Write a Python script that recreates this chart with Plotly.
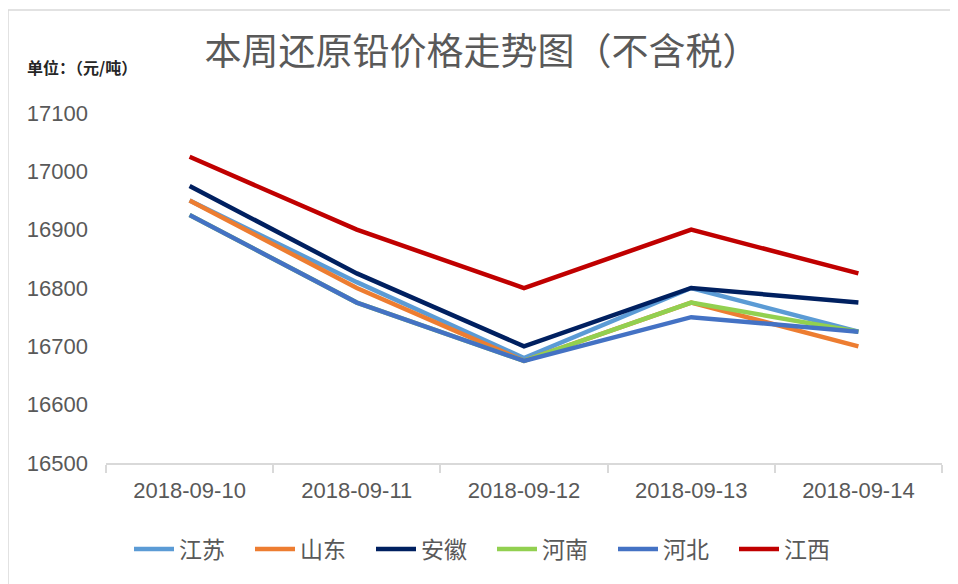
import plotly.graph_objects as go

dates = ["2018-09-10", "2018-09-11", "2018-09-12", "2018-09-13", "2018-09-14"]
jiangsu = [16950, 16810, 16680, 16800, 16725]
shandong = [16950, 16800, 16675, 16775, 16700]
anhui = [16975, 16825, 16700, 16800, 16775]
henan = [16925, 16775, 16675, 16775, 16725]
hebei = [16925, 16775, 16675, 16750, 16725]
jiangxi = [17025, 16900, 16800, 16900, 16825]

series = [
    ("江苏", jiangsu, "#5B9BD5"),
    ("山东", shandong, "#ED7D31"),
    ("安徽", anhui, "#002060"),
    ("河南", henan, "#92D050"),
    ("河北", hebei, "#4472C4"),
    ("江西", jiangxi, "#C00000"),
]

fig = go.Figure()
for name, vals, color in series:
    fig.add_trace(go.Scatter(x=dates, y=vals, name=name, mode="lines",
                             line=dict(color=color, width=4.5)))

# the page body has an 8px margin, so the figure starts at (8, 8)
W, H = 950, 576
L, R, T, B = 98, 16, 105, 121

fig.update_layout(
    width=W, height=H,
    margin=dict(l=L, r=R, t=T, b=B, autoexpand=False),
    paper_bgcolor="white", plot_bgcolor="white",
    font=dict(family="Liberation Sans, Arial, Noto Sans CJK SC", color="#595959"),
    title=dict(text="本周还原铅价格走势图（不含税）", x=(482 - 8) / W, xref="container",
               y=(H - 44) / H, yref="container", yanchor="middle", xanchor="center",
               font=dict(size=37, color="#595959", family="Noto Sans CJK SC")),
    showlegend=True,
    legend=dict(orientation="h", x=(492 - 8) / W, xanchor="center", xref="container",
                y=(H - 541) / H, yref="container", yanchor="middle",
                font=dict(size=23, color="#595959", family="Noto Sans CJK SC"),
                itemwidth=40, tracegroupgap=0, entrywidth=66, entrywidthmode="pixels"),
    xaxis=dict(type="category", range=[-0.5, 4.5], automargin=False, showgrid=False,
               showline=True, linecolor="#d9d9d9",
               linewidth=1.5, ticks="outside", tickson="boundaries", ticklen=8,
               tickcolor="#d9d9d9", tickwidth=1.5, tickfont=dict(size=22, color="#595959"),
               ticklabelstandoff=7, zeroline=False, fixedrange=True),
    yaxis=dict(range=[16500, 17100], dtick=100, automargin=False, showgrid=False,
               showline=False, zeroline=False, tickfont=dict(size=22, color="#595959"),
               ticks="", ticklabelstandoff=17, tickformat="d", fixedrange=True),
    shapes=[dict(type="rect", xref="paper", yref="paper",
                 x0=(0 - L) / (W - L - R), x1=1.2,
                 y0=-0.6, y1=(H - B - 2) / (H - T - B),
                 line=dict(color="#d9d9d9", width=1.5), layer="below")],
    annotations=[dict(text="<b>单位：（元/吨）</b>", xref="paper", yref="paper",
                      x=(17 - L) / (W - L - R), xanchor="left",
                      y=(H - B - 59) / (H - T - B), yanchor="middle", showarrow=False,
                      font=dict(size=16, color="#262626", family="Noto Sans CJK SC"))],
)

fig.write_html("out.html")
